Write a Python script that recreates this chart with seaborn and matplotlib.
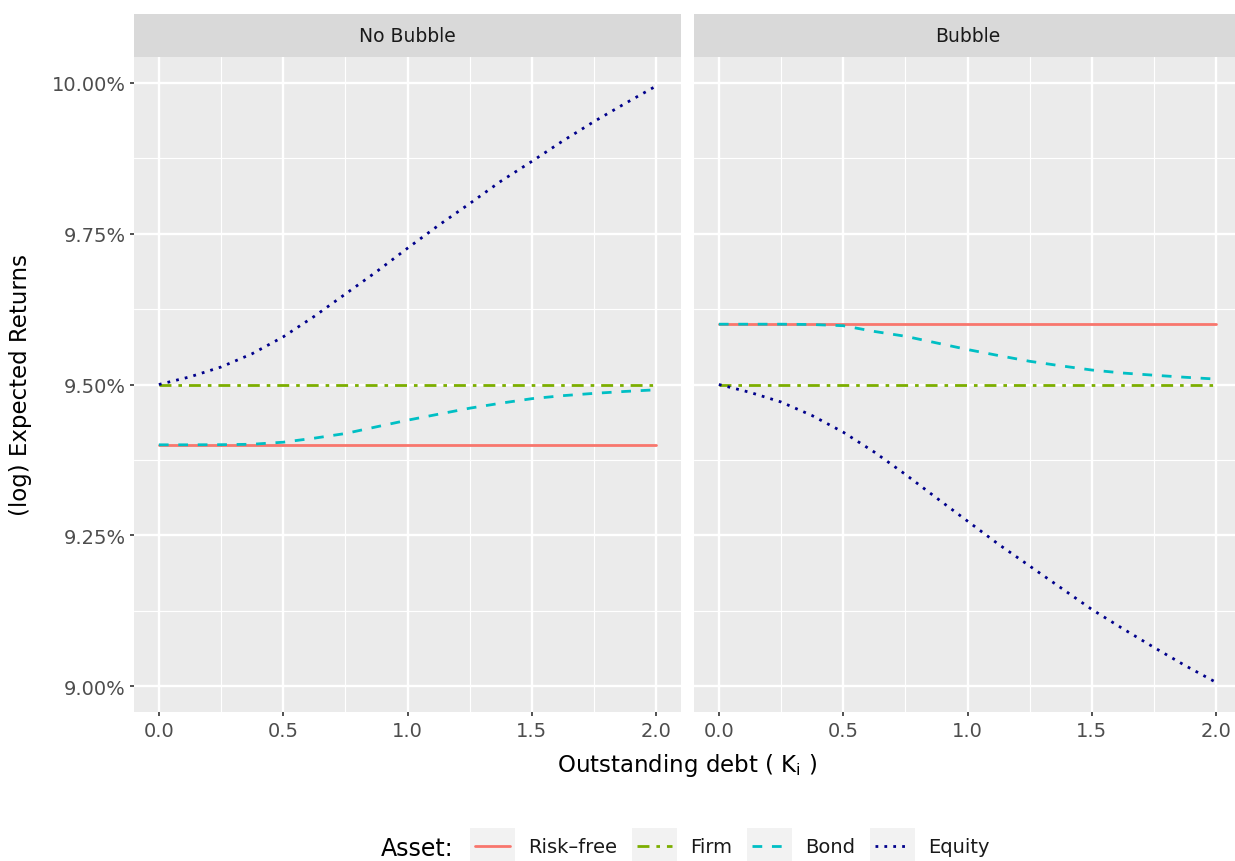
import matplotlib
matplotlib.use("Agg")
import numpy as np
import pandas as pd
import seaborn as sns
import matplotlib.pyplot as plt
from matplotlib.ticker import FixedLocator, FuncFormatter
from matplotlib.patches import Rectangle

# ---------------- data ----------------
K = [0.0, 0.125, 0.25, 0.375, 0.5, 0.625, 0.75, 0.875, 1.0,
     1.125, 1.25, 1.375, 1.5, 1.625, 1.75, 1.875, 2.0]

riskfree_nobubble = [9.40] * 17
firm_nobubble = [9.50] * 17
bond_nobubble = [9.400, 9.400, 9.4002, 9.4009, 9.4043, 9.411, 9.4187, 9.4298, 9.4408,
                 9.4508, 9.4607, 9.469, 9.4765, 9.4815, 9.4853, 9.4885, 9.4912]
equity_nobubble = [9.500, 9.5127, 9.529, 9.551, 9.579, 9.613, 9.650, 9.687, 9.726,
                   9.764, 9.800, 9.837, 9.870, 9.904, 9.936, 9.966, 9.995]

riskfree_bubble = [9.60] * 17
firm_bubble = [9.50] * 17
bond_bubble = [9.600, 9.600, 9.600, 9.5995, 9.5975, 9.588, 9.580, 9.569, 9.558,
               9.548, 9.5385, 9.531, 9.524, 9.519, 9.5154, 9.512, 9.509]
equity_bubble = [9.500, 9.487, 9.471, 9.4485, 9.421, 9.388, 9.351, 9.312, 9.2735,
                 9.235, 9.199, 9.163, 9.127, 9.095, 9.064, 9.034, 9.006]

assets = ["Risk\u2013free", "Firm", "Bond", "Equity"]
scenarios = ["No Bubble", "Bubble"]
y_ticks = [9.00, 9.25, 9.50, 9.75, 10.00]
x_ticks = [0.0, 0.5, 1.0, 1.5, 2.0]

series = {
    ("No Bubble", assets[0]): riskfree_nobubble,
    ("No Bubble", assets[1]): firm_nobubble,
    ("No Bubble", assets[2]): bond_nobubble,
    ("No Bubble", assets[3]): equity_nobubble,
    ("Bubble", assets[0]): riskfree_bubble,
    ("Bubble", assets[1]): firm_bubble,
    ("Bubble", assets[2]): bond_bubble,
    ("Bubble", assets[3]): equity_bubble,
}
rows = []
for (scen, asset), vals in series.items():
    for k, v in zip(K, vals):
        rows.append({"Scenario": scen, "Asset": asset, "K": k, "ret": v})
df = pd.DataFrame(rows)

# ---------------- style ----------------
sns.set_style("darkgrid", {"axes.facecolor": "#EBEBEB", "grid.color": "white"})
plt.rcParams["font.family"] = ["DejaVu Sans"]

palette = {assets[0]: "#F8766D", assets[1]: "#7CAE00",
           assets[2]: "#00BFC4", assets[3]: "#00008B"}
dashes = {assets[0]: "", assets[1]: (4.3, 2.5, 1.3, 2.5),
          assets[2]: (3.5, 3.5), assets[3]: (1, 2.2)}

W, H = 1235, 862
fig = plt.figure(figsize=(W / 100, H / 100), dpi=100)


def rect(x0, y0, x1, y1):
    return [x0 / W, 1 - y1 / H, (x1 - x0) / W, (y1 - y0) / H]


axL = fig.add_axes(rect(134, 58, 681, 713))
axR = fig.add_axes(rect(694, 58, 1241, 713), sharey=axL)
stripL = fig.add_axes(rect(134, 15, 681, 58))
stripR = fig.add_axes(rect(694, 15, 1241, 58))

for ax, scen, strip in [(axL, "No Bubble", stripL), (axR, "Bubble", stripR)]:
    sub = df[df["Scenario"] == scen]
    sns.lineplot(data=sub, x="K", y="ret", hue="Asset", style="Asset",
                 hue_order=assets, style_order=assets, palette=palette,
                 dashes=dashes, linewidth=2.0, estimator=None, sort=False,
                 legend=False, ax=ax)
    ax.set_xlim(-0.1, 2.1)
    ax.set_ylim(8.9569, 10.0431)
    ax.set_xlabel("")
    ax.set_ylabel("")
    ax.xaxis.set_major_locator(FixedLocator(x_ticks))
    ax.xaxis.set_minor_locator(FixedLocator([0.25, 0.75, 1.25, 1.75]))
    ax.yaxis.set_major_locator(FixedLocator(y_ticks))
    ax.yaxis.set_minor_locator(FixedLocator([9.125, 9.375, 9.625, 9.875]))
    ax.xaxis.set_major_formatter(FuncFormatter(lambda v, p: f"{v:.1f}"))
    ax.yaxis.set_major_formatter(FuncFormatter(lambda v, p: f"{v:.2f}%"))
    ax.grid(which="major", color="white", linewidth=1.7)
    ax.grid(which="minor", color="white", linewidth=0.85)
    ax.set_axisbelow(True)
    for s in ax.spines.values():
        s.set_visible(False)
    ax.tick_params(which="major", length=3.2, width=1.2, color="#333333",
                   labelcolor="#4D4D4D", labelsize=14, pad=3,
                   bottom=True, left=True)
    ax.tick_params(which="minor", length=0)

    strip.set_facecolor("#D9D9D9")
    strip.set_xticks([])
    strip.set_yticks([])
    strip.grid(False)
    for s in strip.spines.values():
        s.set_visible(False)
    strip.text(0.5, 0.5, scen, ha="center", va="center", fontsize=13.5,
               color="#1A1A1A", transform=strip.transAxes)

axR.tick_params(axis="y", which="both", left=False, labelleft=False)

fig.text(21 / W, 1 - 385.5 / H, "(log) Expected Returns", rotation=90,
         ha="center", va="center", fontsize=16.5, color="black")
fig.text(687.5 / W, 1 - 766 / H, r"Outstanding debt ( $\mathregular{K_i}$ )",
         ha="center", va="center", fontsize=16.5, color="black")

# ---------------- legend ----------------
fig.text(381 / W, 1 - 849 / H, "Asset:", ha="left", va="center",
         fontsize=17, color="black")
leg = fig.legend(handles=axL.lines[:4], labels=assets, loc="center left",
                 bbox_to_anchor=(475 / W, 1 - 848 / H), ncol=4, frameon=False,
                 fontsize=14, handlelength=1.8, handletextpad=0.93,
                 columnspacing=1.03, borderpad=0, borderaxespad=0)
for t in leg.get_texts():
    t.set_color("#1A1A1A")

fig.canvas.draw()
renderer = fig.canvas.get_renderer()
inv = fig.transFigure.inverted()
for h in leg.legend_handles:
    bb = h.get_window_extent(renderer)
    cx = (bb.x0 + bb.x1) / 2
    cy = (bb.y0 + bb.y1) / 2
    (fx0, fy0) = inv.transform((cx - 22.5, cy - 18))
    (fx1, fy1) = inv.transform((cx + 22.5, cy + 18))
    fig.patches.append(Rectangle((fx0, fy0), fx1 - fx0, fy1 - fy0,
                                 transform=fig.transFigure, facecolor="#F2F2F2",
                                 edgecolor="none", zorder=0))

fig.savefig("out.png", dpi=100, facecolor="white")
